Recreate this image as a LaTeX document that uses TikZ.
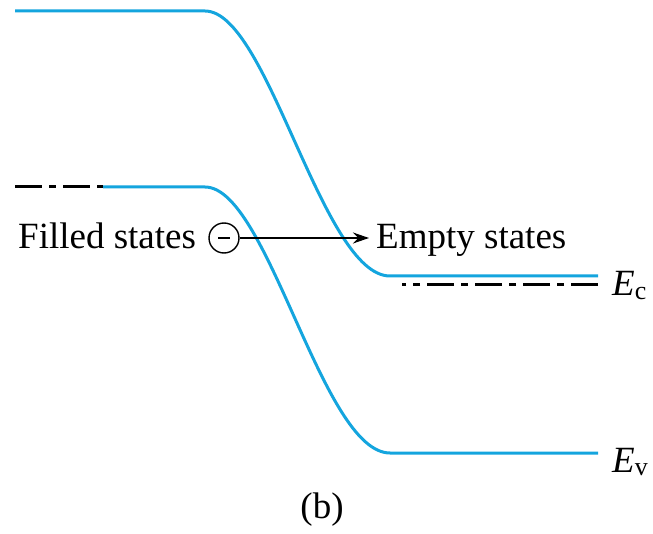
\documentclass[tikz,border=0pt]{standalone}
\usepackage{fontspec}
\setmainfont{Liberation Serif}
\usetikzlibrary{arrows.meta}
\definecolor{band}{RGB}{20,165,222}
\tikzset{
  bandline/.style={draw=band, line width=3pt},
  fermi/.style={draw=black, line width=3pt, dash pattern=on 27pt off 7pt on 7pt off 7pt},
  lbl/.style={font=\fontsize{37}{40}\selectfont, inner sep=0pt, anchor=base west},
}
\begin{document}
\begin{tikzpicture}[x=1pt,y=-1pt]
\useasboundingbox (0,0) rectangle (653,534);
% conduction band
\coordinate (c0) at (15,11);
\coordinate (c1) at (205,11);
\coordinate (c2) at (390,276);
\coordinate (c3) at (598,276);
\path[bandline] (c0) -- (c1) .. controls (268,11) and (322,276) .. (c2) -- (c3);
% valence band
\coordinate (f0) at (15,187);
\coordinate (v0) at (103,187);
\coordinate (v1) at (205,187);
\coordinate (v2) at (390,453);
\coordinate (v3) at (598,453);
\path[bandline] (v0) -- (v1) .. controls (268,187) and (322,453) .. (v2) -- (v3);
% Fermi levels
\path[fermi] (f0) -- (v0);
\coordinate (f1) at (598,285);
\coordinate (f2) at (402,285);
\path[fermi] (f1) -- (f2);
% labels
\node[lbl] (filled) at (18,249) {Filled states};
\node[lbl] (empty) at (376,249) {Empty states};
\node[lbl] (ec) at (612,296) {\textit{E}\textsubscript{c}};
\node[lbl] (ev) at (612,472) {\textit{E}\textsubscript{v}};
\node[lbl, anchor=base] (b) at (322,518) {(b)};
% electron
\node[draw, circle, line width=1.4pt, minimum size=30pt, inner sep=0pt] (e) at (224,238) {\rule[0pt]{12pt}{1.2pt}};
\draw[line width=1.5pt, -{Stealth[length=16pt,width=11pt]}] (e.east) -- (369,238) coordinate (tip);
\end{tikzpicture}
\end{document}
